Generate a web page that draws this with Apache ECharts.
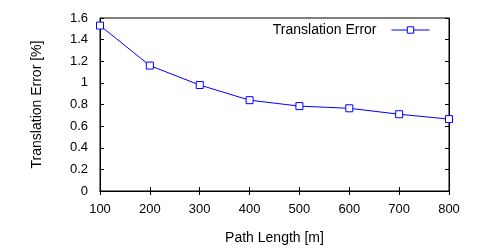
<!DOCTYPE html>
<html><head><meta charset="utf-8">
<script src="https://cdn.jsdelivr.net/npm/echarts@6/dist/echarts.min.js"></script>
<style>html,body{margin:0;padding:0;background:#fff}#c{width:500px;height:250px}</style>
</head><body><div id="c"></div>
<script>
const categories = [100, 200, 300, 400, 500, 600, 700, 800];
const translationError = [1.53, 1.16, 0.98, 0.84, 0.785, 0.765, 0.71, 0.665];
const seriesName = 'Translation Error';
const xTitle = 'Path Length [m]';
const yTitle = 'Translation Error [%]';

const font = 'Liberation Sans, Arial, sans-serif';
const chart = echarts.init(document.getElementById('c'));
const tickStyle = {show: true, inside: true, length: 4, lineStyle: {color: '#000', width: 1}};
chart.setOption({
  animation: false,
  backgroundColor: '#fff',
  textStyle: {fontFamily: font, color: '#000'},
  grid: {left: 100, right: 51, top: 18, bottom: 58, show: true, borderColor: '#000', borderWidth: 1},
  legend: {
    data: [seriesName], right: 65, top: 18, align: 'right', itemWidth: 38, itemHeight: 8,
    lineStyle: {width: 1},
    itemStyle: {color: '#fff', borderColor: '#0000ff', borderWidth: 1},
    textStyle: {fontFamily: font, fontSize: 14, color: '#000', padding: [0, 10, 0, 0]}
  },
  xAxis: [{
    type: 'value', min: 100, max: 800, interval: 100,
    name: xTitle, nameLocation: 'middle', nameGap: 40,
    nameTextStyle: {fontFamily: font, fontSize: 14, color: '#000'},
    axisLine: {show: true, lineStyle: {color: '#000'}},
    axisTick: tickStyle, splitLine: {show: false},
    axisLabel: {fontFamily: font, fontSize: 13, color: '#000', margin: 12}
  }, {
    type: 'value', position: 'top', min: 100, max: 800, interval: 100,
    axisLine: {show: true, lineStyle: {color: '#000'}},
    axisTick: tickStyle, axisLabel: {show: false}, splitLine: {show: false}
  }],
  yAxis: [{
    type: 'value', min: 0, max: 1.6, interval: 0.2,
    name: yTitle, nameLocation: 'middle', nameGap: 56, nameRotate: 90,
    nameTextStyle: {fontFamily: font, fontSize: 14, color: '#000'},
    axisLine: {show: true, lineStyle: {color: '#000'}},
    axisTick: tickStyle, splitLine: {show: false},
    axisLabel: {fontFamily: font, fontSize: 13, color: '#000', margin: 12,
      formatter: v => String(Math.round(v * 10) / 10)}
  }, {
    type: 'value', position: 'right', min: 0, max: 1.6, interval: 0.2,
    axisLine: {show: true, lineStyle: {color: '#000'}},
    axisTick: tickStyle, axisLabel: {show: false}, splitLine: {show: false}
  }],
  series: [{
    name: seriesName, type: 'line',
    data: categories.map((c, i) => [c, translationError[i]]),
    symbol: 'rect', symbolSize: 7, showAllSymbol: true,
    lineStyle: {color: '#0000ff', width: 1},
    itemStyle: {color: '#fff', borderColor: '#0000ff', borderWidth: 1},
    emphasis: {disabled: true}
  }]
});
</script></body></html>
